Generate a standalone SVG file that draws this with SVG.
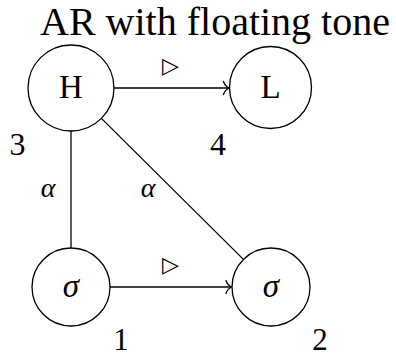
<svg xmlns="http://www.w3.org/2000/svg" width="396" height="356" viewBox="0 0 396 356">
<defs>
<marker id="to" markerUnits="userSpaceOnUse" markerWidth="12" markerHeight="16" refX="0" refY="0" viewBox="-7 -8 9 16" orient="auto" overflow="visible">
<path d="M-5.5,-6.5 C-4.5,-3 -1.5,-0.8 0,0 C-1.5,0.8 -4.5,3 -5.5,6.5" fill="none" stroke="#000" stroke-width="1.3" stroke-linecap="round"/>
</marker>
</defs>
<text x="215" y="35" font-size="40" font-family="Liberation Serif" text-anchor="middle">AR with floating tone</text>
<g id="edges" stroke="#000" stroke-width="1.3" fill="none">
<line x1="114" y1="88" x2="229" y2="88" marker-end="url(#to)"/>
<line x1="110" y1="287" x2="231.5" y2="287" marker-end="url(#to)"/>
<line x1="71" y1="131" x2="71" y2="248"/>
<line x1="101.4" y1="118.4" x2="243.4" y2="259.4"/>
</g>
<g id="edge-labels" fill="#000" stroke="none" text-anchor="middle">
<text x="170" y="73" font-size="22" font-family="Liberation Serif">&#9655;</text>
<text x="170" y="272" font-size="22" font-family="Liberation Serif">&#9655;</text>
<text x="48" y="197" font-size="28" font-family="Liberation Serif" font-style="italic">&#945;</text>
<text x="148" y="197" font-size="28" font-family="Liberation Serif" font-style="italic">&#945;</text>
</g>
<g id="node-H" text-anchor="middle">
<circle cx="71" cy="88" r="43" fill="#fff" stroke="#000" stroke-width="1.3"/>
<text x="71" y="98" font-size="33" font-family="Liberation Serif">H</text>
<text x="17.5" y="155" font-size="32" font-family="Liberation Serif">3</text>
</g>
<g id="node-L" text-anchor="middle">
<circle cx="270.5" cy="87.5" r="41" fill="#fff" stroke="#000" stroke-width="1.3"/>
<text x="270.5" y="98" font-size="33" font-family="Liberation Serif">L</text>
<text x="218" y="155" font-size="32" font-family="Liberation Serif">4</text>
</g>
<g id="node-s1" text-anchor="middle">
<circle cx="71" cy="287" r="39" fill="#fff" stroke="#000" stroke-width="1.3"/>
<text x="71" y="297" font-size="33" font-family="Liberation Serif" font-style="italic">&#963;</text>
<text x="121" y="350" font-size="31" font-family="Liberation Serif">1</text>
</g>
<g id="node-s2" text-anchor="middle">
<circle cx="271" cy="287" r="39" fill="#fff" stroke="#000" stroke-width="1.3"/>
<text x="271" y="297" font-size="33" font-family="Liberation Serif" font-style="italic">&#963;</text>
<text x="320" y="350" font-size="31" font-family="Liberation Serif">2</text>
</g>
</svg>
